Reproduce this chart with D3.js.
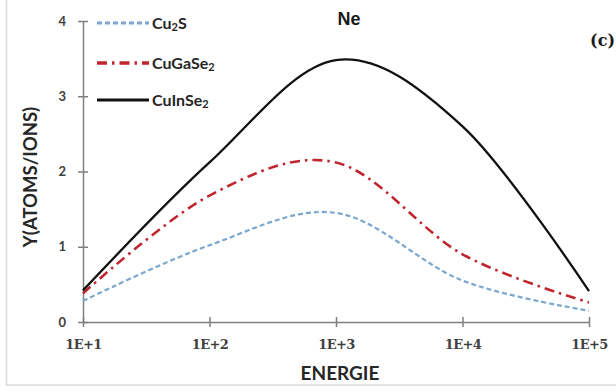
<!DOCTYPE html>
<html>
<head>
<meta charset="utf-8">
<script src="https://cdn.jsdelivr.net/npm/d3@7"></script>
<style>
  html, body { margin: 0; padding: 0; background: #fff; }
  svg { display: block; }
</style>
</head>
<body>
<svg id="chart" width="616" height="392"></svg>
<script>
// Sputtering yield vs. ion energy for Ne ions
const energies = [1e1, 1e2, 1e3, 1e4, 1e5];
const xTickLabels = ["1E+1", "1E+2", "1E+3", "1E+4", "1E+5"];
const yTicks = [0, 1, 2, 3, 4];

const cu2s    = [0.28, 1.02, 1.45, 0.55, 0.15];
const cugase2 = [0.38, 1.68, 2.12, 0.90, 0.26];
const cuinse2 = [0.42, 2.12, 3.48, 2.60, 0.41];

const seriesNames = ["Cu2S", "CuGaSe2", "CuInSe2"];

const svg = d3.select("#chart");
const W = 616, H = 392;
const m = { left: 83, right: 27, top: 21, bottom: 70 };

// outer frame
svg.append("rect")
  .attr("x", 6.5).attr("y", -4).attr("width", W).attr("height", 393.5 - 4.5)
  .attr("fill", "none").attr("stroke", "#d9d9d9").attr("stroke-width", 1.5);

const x = d3.scaleLog().domain([1e1, 1e5]).range([m.left, W - m.right]);
const y = d3.scaleLinear().domain([0, 4]).range([H - m.bottom, m.top]);

const axisColor = "#7f7f7f";
const labelColor = "#404040";

// y axis
const yAxis = svg.append("g")
  .attr("transform", `translate(${m.left},0)`)
  .call(d3.axisLeft(y).tickValues(yTicks).tickFormat(d3.format("d")).tickSizeInner(5).tickSizeOuter(0).tickPadding(12));
yAxis.select(".domain").attr("stroke", axisColor).attr("stroke-width", 1.5);
yAxis.selectAll(".tick line").attr("stroke", axisColor).attr("stroke-width", 1.5).attr("x1", -5).attr("x2", 5);
yAxis.selectAll(".tick text")
  .attr("fill", labelColor)
  .style("font-family", "Lato, 'Open Sans', sans-serif")
  .style("font-weight", "bold").style("font-size", "13px");

// x axis
const xAxis = svg.append("g")
  .attr("transform", `translate(0,${y(0)})`)
  .call(d3.axisBottom(x).tickValues(energies).tickFormat((d, i) => xTickLabels[i]).tickSizeInner(5).tickSizeOuter(0).tickPadding(13));
xAxis.select(".domain").attr("stroke", axisColor).attr("stroke-width", 1.5);
xAxis.selectAll(".tick line").attr("stroke", axisColor).attr("stroke-width", 1.5).attr("y1", -5).attr("y2", 5);
xAxis.selectAll(".tick text")
  .attr("fill", labelColor)
  .style("font-family", "'DejaVu Serif', 'Liberation Serif', serif")
  .style("font-weight", "bold").style("font-size", "13px")
  .style("letter-spacing", "-0.6px");

// axis titles
svg.append("text")
  .attr("x", 340).attr("y", 380)
  .attr("text-anchor", "middle")
  .attr("fill", "#262626")
  .style("font-family", "Lato, 'Open Sans', sans-serif")
  .style("font-weight", "bold").style("font-size", "19px")
  .text("ENERGIE");

svg.append("text")
  .attr("transform", "translate(37,177) rotate(-90)")
  .attr("text-anchor", "middle")
  .attr("fill", "#262626")
  .style("font-family", "Lato, 'Open Sans', sans-serif")
  .style("font-weight", "bold").style("font-size", "18.5px")
  .text("Y(ATOMS/IONS)");

// title and panel tag
svg.append("text")
  .attr("x", 349).attr("y", 25)
  .attr("text-anchor", "middle")
  .attr("fill", "#1a1a1a")
  .style("font-family", "'Liberation Sans', Arial, sans-serif")
  .style("font-weight", "bold").style("font-size", "18px")
  .text("Ne");

svg.append("text")
  .attr("x", 615).attr("y", 46)
  .attr("text-anchor", "end")
  .attr("fill", "#1a1a1a")
  .style("font-family", "'DejaVu Serif', 'Liberation Serif', serif")
  .style("font-weight", "bold").style("font-size", "16px")
  .text("(c)");

// curves
const styles = [
  { data: cu2s,    color: "#7ba7cf", width: 2.2, dash: "5,3" },
  { data: cugase2, color: "#c0262d", width: 2.6, dash: "10,5,2.5,5" },
  { data: cuinse2, color: "#111111", width: 2.3, dash: null }
];

const line = d3.line()
  .x((d, i) => x(energies[i]))
  .y(d => y(d))
  .curve(d3.curveCatmullRom.alpha(0));

styles.forEach(s => {
  svg.append("path")
    .datum(s.data)
    .attr("d", line)
    .attr("fill", "none")
    .attr("stroke", s.color)
    .attr("stroke-width", s.width)
    .attr("stroke-dasharray", s.dash)
    .attr("stroke-linecap", "butt");
});

// legend
const legendRows = [23, 63, 100];
styles.forEach((s, i) => {
  const g = svg.append("g").attr("transform", `translate(0,${legendRows[i]})`);
  g.append("line")
    .attr("x1", 97).attr("x2", 149).attr("y1", 0).attr("y2", 0)
    .attr("stroke", s.color)
    .attr("stroke-width", s.width + 0.8)
    .attr("stroke-dasharray", s.dash);
  const t = g.append("text")
    .attr("x", 152).attr("y", 5.5)
    .attr("fill", "#262626")
    .style("font-family", "Lato, 'Open Sans', sans-serif")
    .style("font-weight", "bold").style("font-size", "16px");
  const name = seriesNames[i];
  const base = name.slice(0, name.lastIndexOf("2"));
  const rest = name.slice(name.lastIndexOf("2") + 1);
  t.append("tspan").text(base);
  t.append("tspan").attr("font-size", "11px").attr("dy", 2).text("2");
  if (rest) t.append("tspan").attr("dy", -2).text(rest);
});
</script>
</body>
</html>
